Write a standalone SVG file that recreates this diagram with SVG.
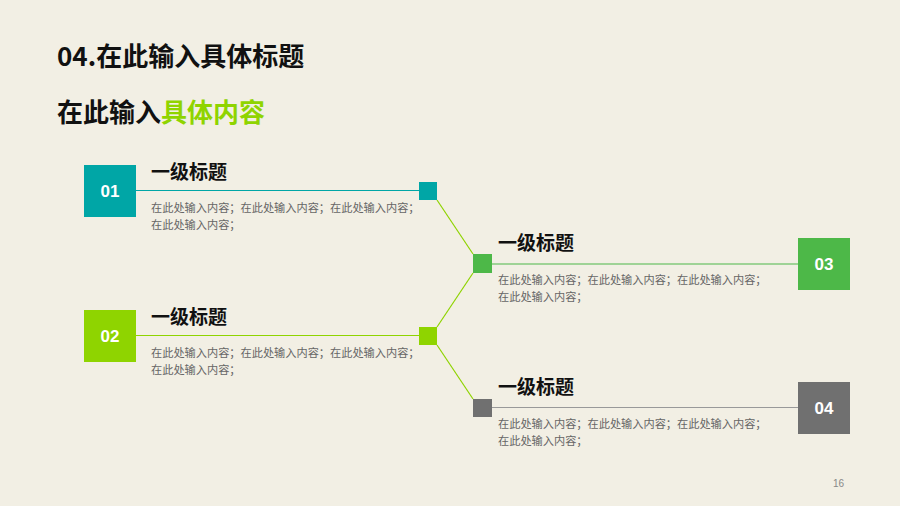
<svg xmlns="http://www.w3.org/2000/svg" width="900" height="506" viewBox="0 0 900 506">
<style>
.cjk{font-family:"Noto Sans CJK SC","Liberation Sans",sans-serif}
.h{font-size:26px;font-weight:bold;fill:#111}
.t{font-size:19px;font-weight:bold;fill:#111}
.b{font-size:11.2px;fill:#666}
.n{font-family:"Liberation Sans",Arial,sans-serif;font-size:17px;font-weight:bold;fill:#fff;text-anchor:middle}
.c{stroke:#8FD400;stroke-width:1.2;fill:none}
</style>
<rect width="900" height="506" fill="#F2EFE4"/>
<text class="cjk h" x="57" y="66">04.在此输入具体标题</text>
<text class="cjk h" x="57" y="122">在此输入<tspan fill="#8FD400">具体内容</tspan></text>
<g id="connectors">
<line x1="136" y1="190.5" x2="419" y2="190.5" stroke="#00A6A6" stroke-width="1.2"/>
<line x1="136" y1="335.5" x2="419" y2="335.5" stroke="#8FD400" stroke-width="1.2"/>
<line x1="492" y1="264" x2="798" y2="264" stroke="#4DB848" stroke-width="1.2"/>
<line x1="492" y1="407.5" x2="798" y2="407.5" stroke="#999" stroke-width="1.2"/>
<line class="c" x1="437" y1="200" x2="473" y2="254"/>
<line class="c" x1="473" y1="273" x2="437" y2="327"/>
<line class="c" x1="437" y1="345" x2="473" y2="399"/>
</g>
<g id="node01">
<rect x="84" y="165" width="52" height="52" fill="#00A6A6"/>
<text class="n" x="110" y="197">01</text>
<rect x="419" y="182" width="18" height="18" fill="#00A6A6"/>
<text class="cjk t" x="151" y="179">一级标题</text>
<text class="cjk b" x="151" y="212">在此处输入内容；在此处输入内容；在此处输入内容；</text>
<text class="cjk b" x="151" y="229">在此处输入内容；</text>
</g>
<g id="node02">
<rect x="84" y="310" width="52" height="52" fill="#8FD400"/>
<text class="n" x="110" y="342">02</text>
<rect x="419" y="327" width="18" height="18" fill="#8FD400"/>
<text class="cjk t" x="151" y="324">一级标题</text>
<text class="cjk b" x="151" y="357">在此处输入内容；在此处输入内容；在此处输入内容；</text>
<text class="cjk b" x="151" y="374">在此处输入内容；</text>
</g>
<g id="node03">
<rect x="798" y="238" width="52" height="52" fill="#4DB848"/>
<text class="n" x="824" y="270">03</text>
<rect x="473" y="254" width="19" height="19" fill="#4DB848"/>
<text class="cjk t" x="498" y="250">一级标题</text>
<text class="cjk b" x="498" y="284">在此处输入内容；在此处输入内容；在此处输入内容；</text>
<text class="cjk b" x="498" y="301">在此处输入内容；</text>
</g>
<g id="node04">
<rect x="798" y="382" width="52" height="52" fill="#707070"/>
<text class="n" x="824" y="414">04</text>
<rect x="473" y="399" width="19" height="18" fill="#707070"/>
<text class="cjk t" x="498" y="394">一级标题</text>
<text class="cjk b" x="498" y="428">在此处输入内容；在此处输入内容；在此处输入内容；</text>
<text class="cjk b" x="498" y="445">在此处输入内容；</text>
</g>
<text x="833" y="487" font-family="Liberation Sans,Arial,sans-serif" font-size="10" fill="#888">16</text>
</svg>
